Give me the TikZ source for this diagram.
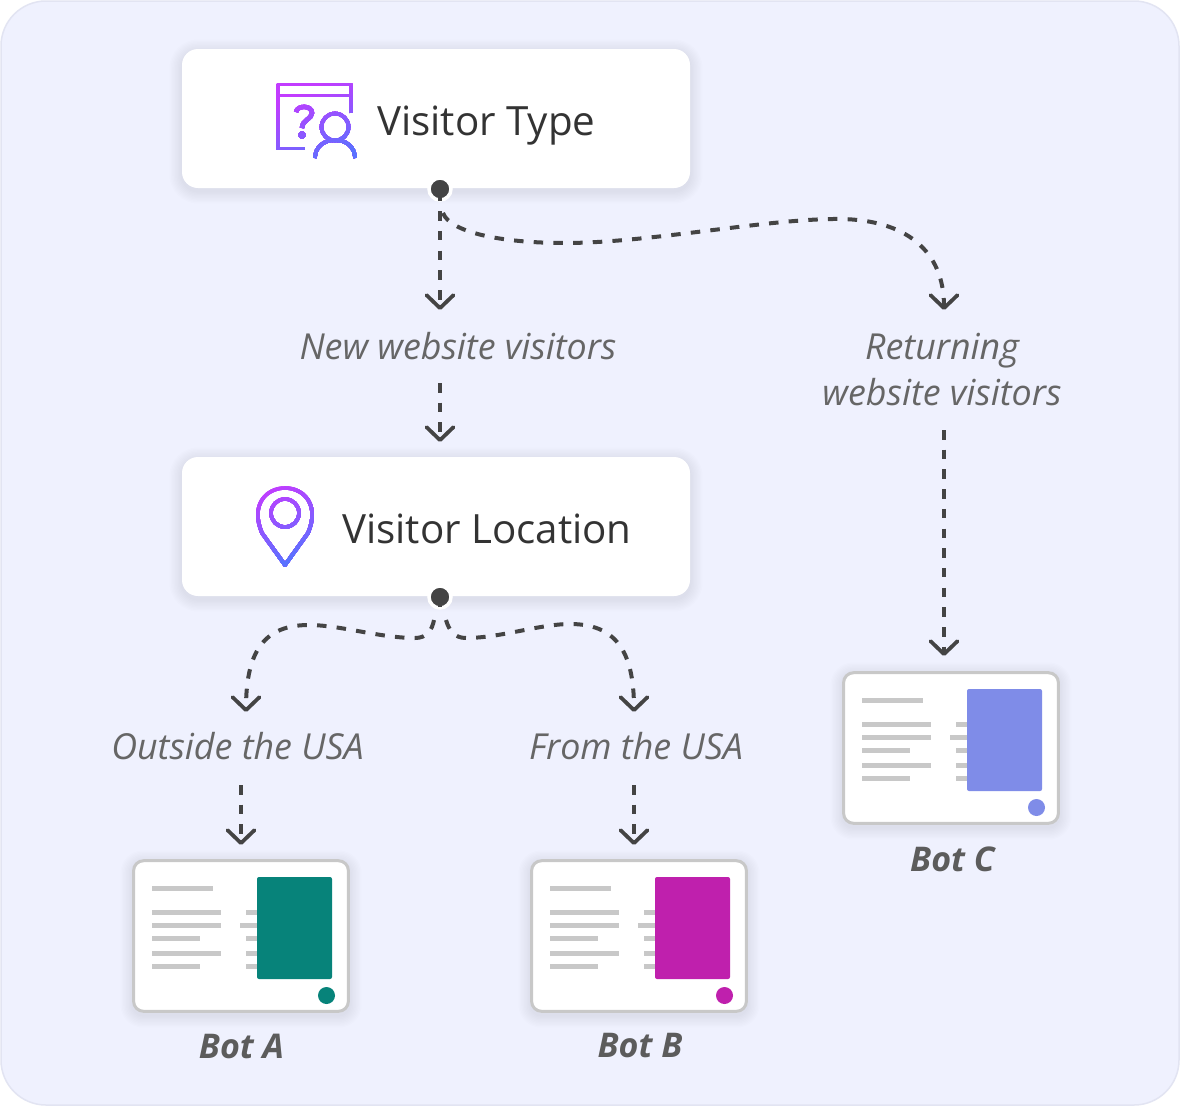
\documentclass[tikz,border=0pt]{standalone}
\usepackage{fontspec}
\setmainfont{Open Sans}
\usetikzlibrary{arrows.meta}
\definecolor{panel}{HTML}{EFF1FE}
\definecolor{panelline}{HTML}{E2E4F2}
\definecolor{ink}{HTML}{444444}
\definecolor{head}{HTML}{333333}
\definecolor{note}{HTML}{666666}
\definecolor{bottitle}{HTML}{5C5C5C}
\definecolor{rule}{HTML}{C8C8C8}
\definecolor{teal}{HTML}{07837A}
\definecolor{magenta}{HTML}{BF20AD}
\definecolor{peri}{HTML}{7F8CE8}
\definecolor{iconA}{HTML}{C23CFF}
\definecolor{iconB}{HTML}{5A72FF}
\tikzset{
  box/.style={fill=white, rounded corners=16pt, minimum width=508pt, minimum height=139pt, inner sep=0pt, outer sep=0pt},
  headtext/.style={text=head, font=\fontsize{40.3}{44}\selectfont, inner sep=0pt},
  notetext/.style={text=note, font=\fontsize{35.8}{46}\selectfont\itshape, inner sep=0pt, align=center},
  bottext/.style={text=bottitle, font=\fontsize{34}{40}\selectfont\itshape\bfseries, inner sep=0pt},
  joint/.style={circle, fill=ink, draw=white, line width=3.5pt, minimum size=22pt, inner sep=0pt},
  flowline/.style={draw=ink, line width=4pt, dash pattern=on 9.5pt off 10.2pt},
  flow/.style={flowline, -{Straight Barb[length=13pt,width=27pt,line width=3.8pt,round]}},
  glyph/.style={line width=3.6pt, line join=round},
  bar/.style={fill=rule, draw=none},
  soft/.style={fill=black!70!blue, fill opacity=0.0075, draw=none}
}
% Soft drop shadow under a rounded rectangle
\newcommand{\softshadow}[5]{%
  \foreach \s in {1,...,9}{
    \fill[soft, rounded corners={#5+\s*1.4pt}]
      ({#1-\s*1.4},{#2+3-\s*1.4}) rectangle ({#3+\s*1.4},{#4+3+\s*1.4});
  }}
% Repaints an icon in stacked slanted bands so its strokes run from violet to blue.
% #1 centre x, #2 first band y, #3 last band y, #4 drawing commands using colour sweep
\newcommand{\sweepicon}[4]{%
  \colorlet{sweep}{iconA}
  #4
  \foreach \k in {0,...,24}{
    \pgfmathsetmacro{\yy}{#2+(#3-#2)*\k/24}
    \pgfmathsetmacro{\pct}{\k*100/24}
    \colorlet{sweep}{iconB!\pct!iconA}
    \begin{scope}
      \clip ({#1-80},{\yy+35}) -- ({#1+80},{\yy-35}) -- ({#1+80},{#3+90}) -- ({#1-80},{#3+90}) -- cycle;
      #4
    \end{scope}
  }}
% A bot card: #1 name, #2 x offset, #3 y offset, #4 accent colour
\newcommand{\botcard}[4]{%
  \begin{scope}[shift={(#2,#3)}]
    \softshadow{133}{860}{349}{1012}{10}
    \node[fill=white, draw=rule, line width=3pt, rounded corners=10pt, minimum width=214.8pt, minimum height=150.6pt, inner sep=0pt] (#1) at (241,936) {};
    \fill[bar] (152,885.5) rectangle (213,890.5);
    \fill[bar] (152,909.5) rectangle (221,914.5);
    \fill[bar] (152,922.5) rectangle (221,927.5);
    \fill[bar] (152,935.5) rectangle (200,940.5);
    \fill[bar] (152,950.5) rectangle (221,955.5);
    \fill[bar] (152,963.5) rectangle (200,968.5);
    \fill[bar] (246,909.5) rectangle (258,914.5);
    \fill[bar] (240,922.5) rectangle (258,927.5);
    \fill[bar] (246,935.5) rectangle (258,940.5);
    \fill[bar] (246,950.5) rectangle (258,955.5);
    \fill[bar] (246,963.5) rectangle (258,968.5);
    \node[fill=#4, rounded corners=2pt, minimum width=75pt, minimum height=102pt, inner sep=0pt] (#1pic) at (294.5,928) {};
    \node[circle, fill=#4, minimum size=17pt, inner sep=0pt] (#1dot) at (326.5,995.5) {};
  \end{scope}}
\begin{document}
\begin{tikzpicture}[x=1pt,y=-1pt]
\useasboundingbox (0,0) rectangle (1180,1106);
% Panel
\fill[white] (0,0) rectangle (1180,1106);
\draw[fill=panel, draw=panelline, line width=1.5pt, rounded corners=45pt] (1,1) rectangle (1179,1105);

% Decision boxes
\softshadow{182}{49}{690}{188}{16}
\softshadow{182}{457}{690}{596}{16}
\node[box] (typebox) at (436,118.5) {};
\node[box] (locbox) at (436,526.5) {};
\node[headtext, anchor=base west] (typetext) at (377,135) {Visitor Type};
\node[headtext, anchor=base west] (loctext) at (342,543) {Visitor Location};

% Visitor type icon
\sweepicon{316}{85}{165}{
  \draw[glyph, sweep] (351,113) -- (351,84.5) -- (278,84.5) -- (278,148.5) -- (305,148.5);
  \draw[glyph, sweep] (278,95.5) -- (351,95.5);
  \draw[glyph, sweep, line width=4.4pt] (296,112) .. controls (297,105) and (312,105) .. (312,113) .. controls (312,119) and (302,120) .. (302,128);
  \fill[sweep] (302,135) circle[radius=3.8];
  \draw[glyph, sweep] (335,127) circle[radius=13.5];
  \draw[glyph, sweep] (315,158) .. controls (315,147) and (324,140) .. (335,140) .. controls (346,140) and (355,147) .. (355,158);
}
% Location pin icon
\sweepicon{285}{480}{560}{
  \draw[glyph, sweep] (285,565) -- (262,533) .. controls (250,505) and (266,488) .. (285,488) .. controls (304,488) and (320,505) .. (308,533) -- cycle;
  \draw[glyph, sweep] (285,513) circle[radius=14];
}

% Joints
\node[joint] (typejoint) at (440,189) {};
\node[joint] (locjoint) at (440,597) {};

% Route labels
\node[notetext] (newlabel) at (458,346) {New website visitors};
\node[notetext] (retlabel) at (942,369.5) {Returning\\website visitors};
\node[notetext] (outlabel) at (237.5,746) {Outside the USA};
\node[notetext] (usalabel) at (636,746) {From the USA};

% Bot cards
\botcard{botA}{0}{0}{teal}
\botcard{botB}{398}{0}{magenta}
\botcard{botC}{710}{-188}{peri}
\node[bottext] (botAname) at (241.5,1046) {Bot A};
\node[bottext] (botBname) at (640,1046) {Bot B};
\node[bottext] (botCname) at (952.5,859) {Bot C};

% Connector end points
\coordinate (newin) at (440,310);
\coordinate (newout) at (440,383);
\coordinate (locin) at (440,442);
\coordinate (retin) at (944,310);
\coordinate (retout) at (944,430);
\coordinate (cin) at (944,656);
\coordinate (outin) at (246,712);
\coordinate (usain) at (634,712);
\coordinate (outout) at (241,785);
\coordinate (usaout) at (634,785);
\coordinate (ain) at (241,845);
\coordinate (bin) at (634,845);

% Connectors
\draw[flow] (typejoint.center) ++(0,2.5) -- (newin);
\draw[flow] (newout) -- (locin);
\draw[flow] (typejoint.center) ++(3,24) .. controls (450,232) and (500,243) .. (565,243) .. controls (650,243) and (770,218) .. (841,219) .. controls (905,220) and (944,250) .. (retin);
\draw[flow] (retout) -- (cin);
\draw[flowline] (locjoint.center) -- ++(0,12);
\draw[flow] (locjoint.center) ++(-6,23) .. controls (432,630) and (427,638) .. (415,638) .. controls (380,638) and (340,625) .. (309,625) .. controls (265,625) and (246,650) .. (outin);
\draw[flow] (locjoint.center) ++(6,23) .. controls (449,630) and (454,638) .. (466,638) .. controls (500,638) and (540,624) .. (570,624) .. controls (615,624) and (634,650) .. (usain);
\draw[flow] (outout) -- (ain);
\draw[flow] (usaout) -- (bin);
\end{tikzpicture}
\end{document}
